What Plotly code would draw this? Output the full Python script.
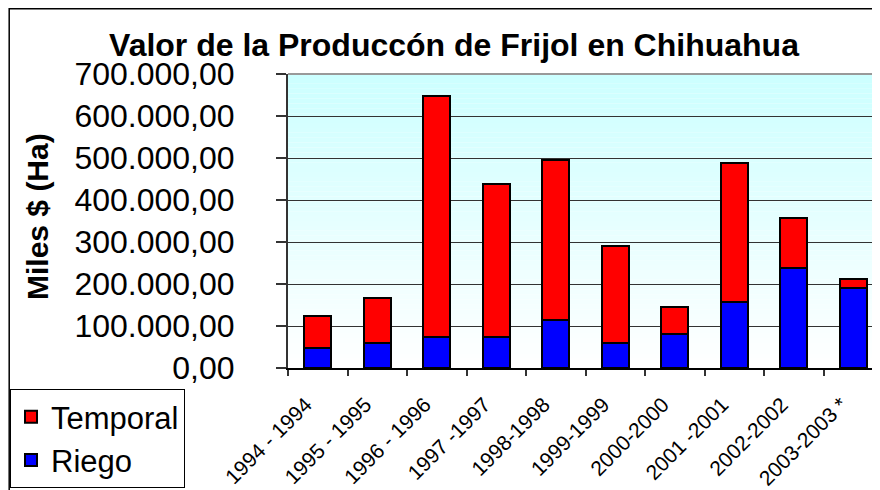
import plotly.graph_objects as go

categories = ["1994 - 1994", "1995 - 1995", "1996 - 1996", "1997 -1997", "1998-1998",
              "1999-1999", "2000-2000", "2001 -2001", "2002-2002", "2003-2003 *"]
riego = [47000, 60000, 75000, 75000, 114000, 60000, 80000, 158000, 238000, 190000]
temporal = [76000, 106000, 573000, 364000, 381000, 230000, 66000, 329000, 120000, 23000]
ytick_vals = [0, 100000, 200000, 300000, 400000, 500000, 600000, 700000]
ytick_text = ["0,00", "100.000,00", "200.000,00", "300.000,00", "400.000,00",
              "500.000,00", "600.000,00", "700.000,00"]

FONT = "Arial, Liberation Sans, sans-serif"
W, H = 880, 490
OFF = 8  # page offset of the figure (body margin)
L, R, T, B = 280, 5, 66, 130
pw, ph = W - L - R, H - T - B

def px_x(p):  # page x -> paper x
    return (p - OFF - L) / pw

def px_y(p):  # page y -> paper y
    return (H - B - (p - OFF)) / ph

fig = go.Figure()
fig.add_trace(go.Bar(x=categories, y=riego, name="Riego", legendrank=2,
                     marker=dict(color="#0000FF", line=dict(color="black", width=2)),
                     width=0.45))
fig.add_trace(go.Bar(x=categories, y=temporal, name="Temporal", legendrank=1,
                     marker=dict(color="#FF0000", line=dict(color="black", width=2)),
                     width=0.45))

shapes = []
n = 60
for i in range(n):
    t = i / (n - 1)
    r = round(255 + (204 - 255) * t)
    col = f"rgb({r},255,255)"
    shapes.append(dict(type="rect", xref="paper", yref="paper", x0=0, x1=1,
                       y0=i / n, y1=(i + 1) / n, fillcolor=col, line=dict(width=0),
                       layer="below"))
shapes.append(dict(type="line", xref="paper", yref="paper", x0=0, x1=1, y0=1, y1=1,
                   line=dict(color="#999999", width=2)))
# outer chart border
shapes.append(dict(type="rect", xref="paper", yref="paper",
                   x0=px_x(9.2), x1=px_x(OFF + W - 1), y0=px_y(OFF + H - 1), y1=px_y(8.7),
                   line=dict(color="black", width=1.5), fillcolor="rgba(0,0,0,0)"))

fig.update_layout(
    width=W, height=H,
    margin=dict(l=L, r=R, t=T, b=B, autoexpand=False),
    paper_bgcolor="white",
    plot_bgcolor="rgba(0,0,0,0)",
    barmode="stack",
    font=dict(family=FONT, color="black"),
    title=dict(text="<b>Valor de la Produccón de Frijol en Chihuahua</b>",
               font=dict(size=32, family=FONT, color="black"),
               x=446 / W, xanchor="center", xref="container",
               y=1 - 37 / H, yanchor="middle", yref="container"),
    shapes=shapes,
    annotations=[dict(text="<b>Miles $ (Ha)</b>", textangle=-90,
                      xref="paper", yref="paper", x=px_x(37), y=px_y(217),
                      xanchor="center", yanchor="middle", showarrow=False,
                      font=dict(size=30, family=FONT, color="black"))],
    showlegend=True,
    legend=dict(x=px_x(10), y=px_y(389), xanchor="left", yanchor="top",
                traceorder="normal",
                bordercolor="black", borderwidth=1,
                bgcolor="white", font=dict(size=31, family=FONT, color="black")),
    xaxis=dict(type="category", tickson="boundaries", ticks="outside", ticklen=6,
               tickcolor="#333", tickwidth=1.5, automargin=False,
               showline=True, linecolor="black", linewidth=2,
               tickangle=-45, tickfont=dict(size=21, family=FONT, color="black"),
               ticklabelstandoff=14, ticklabelshift=-12,
               showgrid=False, range=[-0.5, 9.5]),
    yaxis=dict(range=[0, 700000], tickvals=ytick_vals, ticktext=ytick_text,
               ticks="outside", ticklen=10, tickcolor="#333", tickwidth=1.5,
               showline=True, linecolor="#333", linewidth=2, automargin=False,
               showgrid=True, gridcolor="#333", gridwidth=1,
               zeroline=False,
               ticklabelstandoff=35,
               tickfont=dict(size=32, family=FONT, color="black")),
)

fig.write_html("out.html")
